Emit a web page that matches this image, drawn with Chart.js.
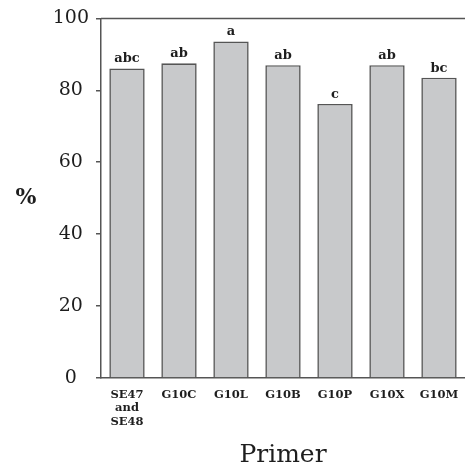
<!DOCTYPE html>
<html>
<head>
<meta charset="utf-8">
<script src="https://cdn.jsdelivr.net/npm/chart.js@4"></script>
<style>
  html, body { margin: 0; padding: 0; background: #fff; }
  #wrap { width: 465px; height: 470px; }
</style>
</head>
<body>
<div id="wrap"><canvas id="c" width="465" height="470"></canvas></div>
<script>
// Primer categories (first one spans three lines)
const primers = [["SE47", "and", "SE48"], "G10C", "G10L", "G10B", "G10P", "G10X", "G10M"];
// Percentage per primer
const percentValues = [86.1, 87.5, 93.6, 87.0, 76.2, 87.0, 83.5];
// Significance letters shown above each bar
const groupLetters = ["abc", "ab", "a", "ab", "c", "ab", "bc"];
// Y-axis ticks
const yTicks = [0, 20, 40, 60, 80, 100];

const SERIF = '"DejaVu Serif", "Liberation Serif", serif';
const INK = '#1e1e1e';
const AXIS = '#555555';

// Letters above bars, the "%" caption and the top frame line
const annotate = {
  id: 'annotate',
  afterDatasetsDraw(chart) {
    const ctx = chart.ctx;
    const area = chart.chartArea;
    ctx.save();
    // top frame line
    ctx.strokeStyle = AXIS;
    ctx.lineWidth = 1.5;
    ctx.beginPath();
    ctx.moveTo(area.left, area.top);
    ctx.lineTo(area.right, area.top);
    ctx.stroke();
    // group letters
    ctx.fillStyle = INK;
    ctx.font = 'bold 13px ' + SERIF;
    ctx.textAlign = 'center';
    ctx.textBaseline = 'alphabetic';
    chart.getDatasetMeta(0).data.forEach((bar, i) => {
      ctx.fillText(groupLetters[i], bar.x, bar.y - 6);
    });
    // y caption
    ctx.font = 'bold 22px ' + SERIF;
    ctx.textBaseline = 'middle';
    ctx.fillText('%', 26, (area.top + area.bottom) / 2);
    ctx.restore();
  }
};

new Chart(document.getElementById('c'), {
  type: 'bar',
  data: {
    labels: primers,
    datasets: [{
      data: percentValues,
      backgroundColor: '#c8c9cb',
      borderColor: '#555555',
      borderWidth: 1.6,
      barPercentage: 0.68,
      categoryPercentage: 1.0
    }]
  },
  options: {
    responsive: false,
    animation: false,
    layout: { padding: { top: 17, right: 0, left: 0, bottom: 0 } },
    plugins: { legend: { display: false }, tooltip: { enabled: false } },
    scales: {
      x: {
        grid: { display: false },
        border: { display: true, color: AXIS, width: 1.5 },
        ticks: {
          color: INK,
          font: { family: SERIF, size: 11.5, weight: 'bold', lineHeight: 1.17 },
          maxRotation: 0,
          autoSkip: false,
          padding: 2
        },
        title: {
          display: true,
          text: 'Primer',
          color: INK,
          font: { family: SERIF, size: 25 },
          padding: { top: 0, bottom: 0 }
        },
        afterFit(scale) { scale.height = 92; }
      },
      y: {
        min: 0,
        max: 100,
        afterBuildTicks(scale) { scale.ticks = yTicks.map(v => ({ value: v })); },
        grid: { drawOnChartArea: false, drawTicks: true, tickLength: 5, color: AXIS, lineWidth: 1.5 },
        border: { display: true, color: AXIS, width: 1.5 },
        ticks: {
          color: INK,
          font: { family: SERIF, size: 19 },
          crossAlign: 'center',
          padding: 7
        },
        afterFit(scale) { scale.width = 101; }
      }
    }
  },
  plugins: [annotate]
});
</script>
</body>
</html>
